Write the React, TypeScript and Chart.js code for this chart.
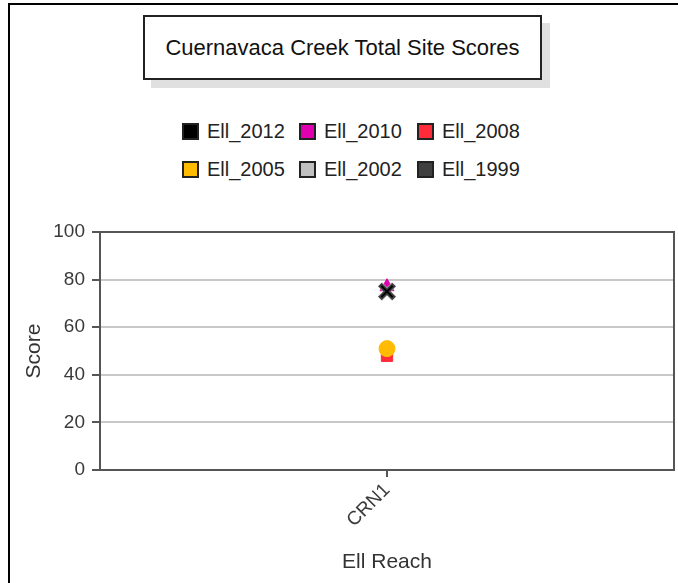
import React, { useEffect, useRef } from "react";
import { Chart, registerables } from "chart.js";

Chart.register(...registerables);

const TITLE = "Cuernavaca Creek Total Site Scores";
const categories = ["CRN1"];
const seriesNames = ["Ell_2012", "Ell_2010", "Ell_2008", "Ell_2005", "Ell_2002", "Ell_1999"];
const seriesColors = ["#000000", "#e000b0", "#ff2a3a", "#ffbb00", "#c0c0c0", "#404040"];
const ell2012 = [75];
const ell2010 = [77];
const ell2008 = [48];
const ell2005 = [51];
const ell2002 = [75];
const ell1999 = [75];
const yTicks = [0, 20, 40, 60, 80, 100];

const FONT = "'Liberation Sans', Arial, Helvetica, sans-serif";

const plotBorder = {
  id: "plotBorder",
  beforeDatasetsDraw(chart: any) {
    const { ctx, chartArea } = chart;
    ctx.save();
    ctx.strokeStyle = "#555555";
    ctx.lineWidth = 2;
    ctx.strokeRect(chartArea.left, chartArea.top, chartArea.right - chartArea.left, chartArea.bottom - chartArea.top);
    ctx.restore();
  },
};

export default function App() {
  const ref = useRef<HTMLCanvasElement | null>(null);
  useEffect(() => {
    if (!ref.current) return;
    const values = [ell2012, ell2010, ell2008, ell2005, ell2002, ell1999];
    const styles: any[] = [
      { pointStyle: "crossRot", radius: 8, borderWidth: 2 },
      { pointStyle: "triangle", radius: 8, borderWidth: 1 },
      { pointStyle: "rect", radius: 8, borderWidth: 1 },
      { pointStyle: "circle", radius: 8, borderWidth: 1 },
      { pointStyle: "crossRot", radius: 10, borderWidth: 6 },
      { pointStyle: "crossRot", radius: 10, borderWidth: 5 },
    ];
    const datasets = seriesNames.map((name, i) => ({
      label: name,
      data: values[i],
      showLine: false,
      backgroundColor: seriesColors[i],
      borderColor: seriesColors[i],
      pointBackgroundColor: seriesColors[i],
      pointBorderColor: seriesColors[i],
      pointStyle: styles[i].pointStyle,
      pointRadius: styles[i].radius,
      pointBorderWidth: styles[i].borderWidth,
      order: [0, 6, 5, 4, 3, 2][i],
    }));
    const chart = new Chart(ref.current, {
      type: "line",
      data: { labels: categories, datasets },
      plugins: [plotBorder],
      options: {
        animation: false,
        responsive: false,
        maintainAspectRatio: false,
        layout: { autoPadding: false, padding: { top: 232, right: 4, bottom: 0, left: 0 } },
        plugins: { legend: { display: false }, title: { display: false }, tooltip: { enabled: false } },
        scales: {
          x: {
            type: "category",
            offset: true,
            afterFit: (s: any) => {
              s.height = 113;
              s.paddingLeft = 0;
              s.paddingRight = 0;
            },
            grid: { drawOnChartArea: false, drawTicks: true, tickLength: 7, tickColor: "#555555", lineWidth: 2 },
            border: { display: true, color: "#555555", width: 2 },
            ticks: { minRotation: 45, maxRotation: 45, padding: 2, color: "#3a3a3a", font: { family: FONT, size: 19 } },
            title: { display: true, text: "Ell Reach", color: "#333333", padding: { top: 0, bottom: 8 }, font: { family: FONT, size: 21 } },
          },
          y: {
            min: 0,
            max: 100,
            afterFit: (s: any) => {
              s.width = 100;
              s.paddingTop = 0;
              s.paddingBottom = 0;
            },
            afterBuildTicks: (s: any) => { s.ticks = yTicks.map((v) => ({ value: v })); },
            grid: { color: "#c8c8c8", lineWidth: 2, tickLength: 8, tickColor: "#555555" },
            border: { display: true, color: "#555555", width: 2 },
            ticks: { padding: 7, color: "#3a3a3a", font: { family: FONT, size: 19 } },
            title: { display: true, text: "Score", color: "#333333", padding: { top: 22, bottom: 0 }, font: { family: FONT, size: 21 } },
          },
        },
      },
    });
    return () => chart.destroy();
  }, []);

  const legendCols = [182, 299, 417];
  const legendRows = [123, 161];

  return (
    <div style={{ position: "fixed", left: 0, top: 0, width: 678, height: 583, overflow: "hidden", background: "#fff", fontFamily: FONT }}>
      <div style={{ position: "absolute", left: 8, top: 3, width: 720, height: 640, border: "2px solid #000", boxSizing: "border-box" }} />
      <div
        style={{
          position: "absolute",
          left: 143,
          top: 15,
          width: 399,
          height: 65,
          border: "2px solid #222",
          boxSizing: "border-box",
          background: "#fff",
          boxShadow: "8px 8px 0 #e0e0e0",
          display: "flex",
          alignItems: "center",
          justifyContent: "center",
          fontSize: 22,
          color: "#111",
        }}
      >
        {TITLE}
      </div>
      {seriesNames.map((name, i) => {
        const col = i % 3;
        const row = Math.floor(i / 3);
        return (
          <div key={name} style={{ position: "absolute", left: legendCols[col], top: legendRows[row], height: 17, display: "flex", alignItems: "center" }}>
            <div style={{ width: 17, height: 17, boxSizing: "border-box", border: "2px solid #222", background: seriesColors[i] }} />
            <span style={{ marginLeft: 8, fontSize: 20, color: "#222", whiteSpace: "nowrap" }}>{name}</span>
          </div>
        );
      })}
      <canvas ref={ref} width={678} height={583} style={{ position: "absolute", left: 0, top: 0, width: 678, height: 583 }} />
    </div>
  );
}
